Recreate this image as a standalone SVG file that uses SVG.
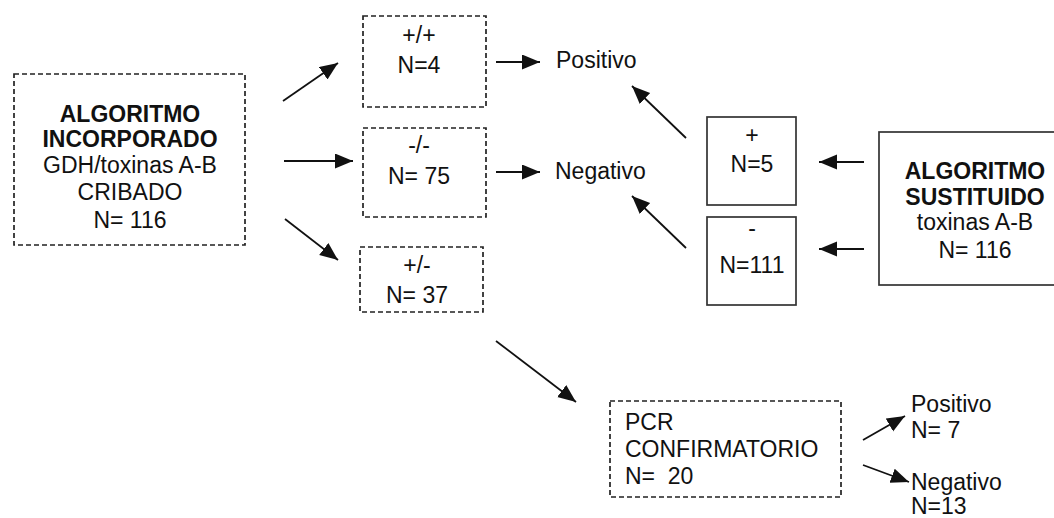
<svg xmlns="http://www.w3.org/2000/svg" width="1054" height="518" viewBox="0 0 1054 518">
<style>
.dash{fill:#fff;stroke:#222;stroke-width:1.7;stroke-dasharray:5,3}
.solid{fill:#fff;stroke:#333;stroke-width:1.7}
text{font-family:"Liberation Sans",Arial,sans-serif;font-size:23px;fill:#111}
.c{text-anchor:middle}
.b{font-weight:bold}
.pre{white-space:pre}
.conn line{stroke:#111;stroke-width:1.8;marker-end:url(#ah)}
</style>
<defs>
<marker id="ah" markerUnits="userSpaceOnUse" markerWidth="19" markerHeight="16" refX="18" refY="7.5" orient="auto">
<path d="M0,0 L18,7.5 L0,15 z" fill="#111"/>
</marker>
</defs>
<rect width="1054" height="518" fill="#fff"/>
<g id="incorporado">
<rect class="dash" x="14" y="74" width="231" height="171"/>
<text class="c b" x="130" y="122">ALGORITMO</text>
<text class="c b" x="130" y="147">INCORPORADO</text>
<text class="c" x="130" y="173">GDH/toxinas A-B</text>
<text class="c" x="130" y="200">CRIBADO</text>
<text class="c" x="130" y="228">N= 116</text>
</g>
<g id="pospos">
<rect class="dash" x="363" y="16" width="123" height="91"/>
<text class="c" x="419" y="43">+/+</text>
<text class="c" x="419" y="73">N=4</text>
</g>
<g id="negneg">
<rect class="dash" x="363" y="128" width="123" height="89"/>
<text class="c" x="419" y="153">-/-</text>
<text class="c" x="419" y="184">N= 75</text>
</g>
<g id="posneg">
<rect class="dash" x="360" y="247" width="123" height="65"/>
<text class="c" x="417" y="273">+/-</text>
<text class="c" x="417" y="303">N= 37</text>
</g>
<g id="positivo"><text x="556" y="68">Positivo</text></g>
<g id="negativo"><text x="555" y="179">Negativo</text></g>
<g id="plus">
<rect class="solid" x="707" y="117" width="89" height="88"/>
<text class="c" x="752" y="143">+</text>
<text class="c" x="752" y="172">N=5</text>
</g>
<g id="minus">
<rect class="solid" x="707" y="217" width="89" height="88"/>
<text class="c" x="752" y="236">-</text>
<text class="c" x="752" y="273">N=111</text>
</g>
<g id="sustituido">
<rect class="solid" x="879" y="132" width="200" height="153"/>
<text class="c b" x="975" y="179">ALGORITMO</text>
<text class="c b" x="975" y="205">SUSTITUIDO</text>
<text class="c" x="975" y="230">toxinas A-B</text>
<text class="c" x="975" y="258">N= 116</text>
</g>
<g id="pcr">
<rect class="dash" x="610" y="401" width="231" height="96"/>
<text x="625" y="430">PCR</text>
<text x="625" y="457">CONFIRMATORIO</text>
<text class="pre" x="625" y="484">N=  20</text>
</g>
<g id="pcrpos">
<text x="911" y="412">Positivo</text>
<text x="911" y="438">N= 7</text>
</g>
<g id="pcrneg">
<text x="911" y="490">Negativo</text>
<text x="911" y="514">N=13</text>
</g>
<g class="conn" id="connectors">
<line x1="283" y1="101" x2="338" y2="63"/>
<line x1="284" y1="161" x2="353" y2="161"/>
<line x1="285" y1="219" x2="338" y2="260"/>
<line x1="496" y1="62" x2="540" y2="62"/>
<line x1="496" y1="172" x2="540" y2="172"/>
<line x1="686" y1="138" x2="632" y2="86"/>
<line x1="686" y1="248" x2="632" y2="196"/>
<line x1="864" y1="162" x2="819" y2="162"/>
<line x1="864" y1="249" x2="819" y2="249"/>
<line x1="496" y1="341" x2="576" y2="402"/>
<line x1="863" y1="440" x2="905" y2="416"/>
<line x1="863" y1="465" x2="909" y2="482"/>
</g>
</svg>
